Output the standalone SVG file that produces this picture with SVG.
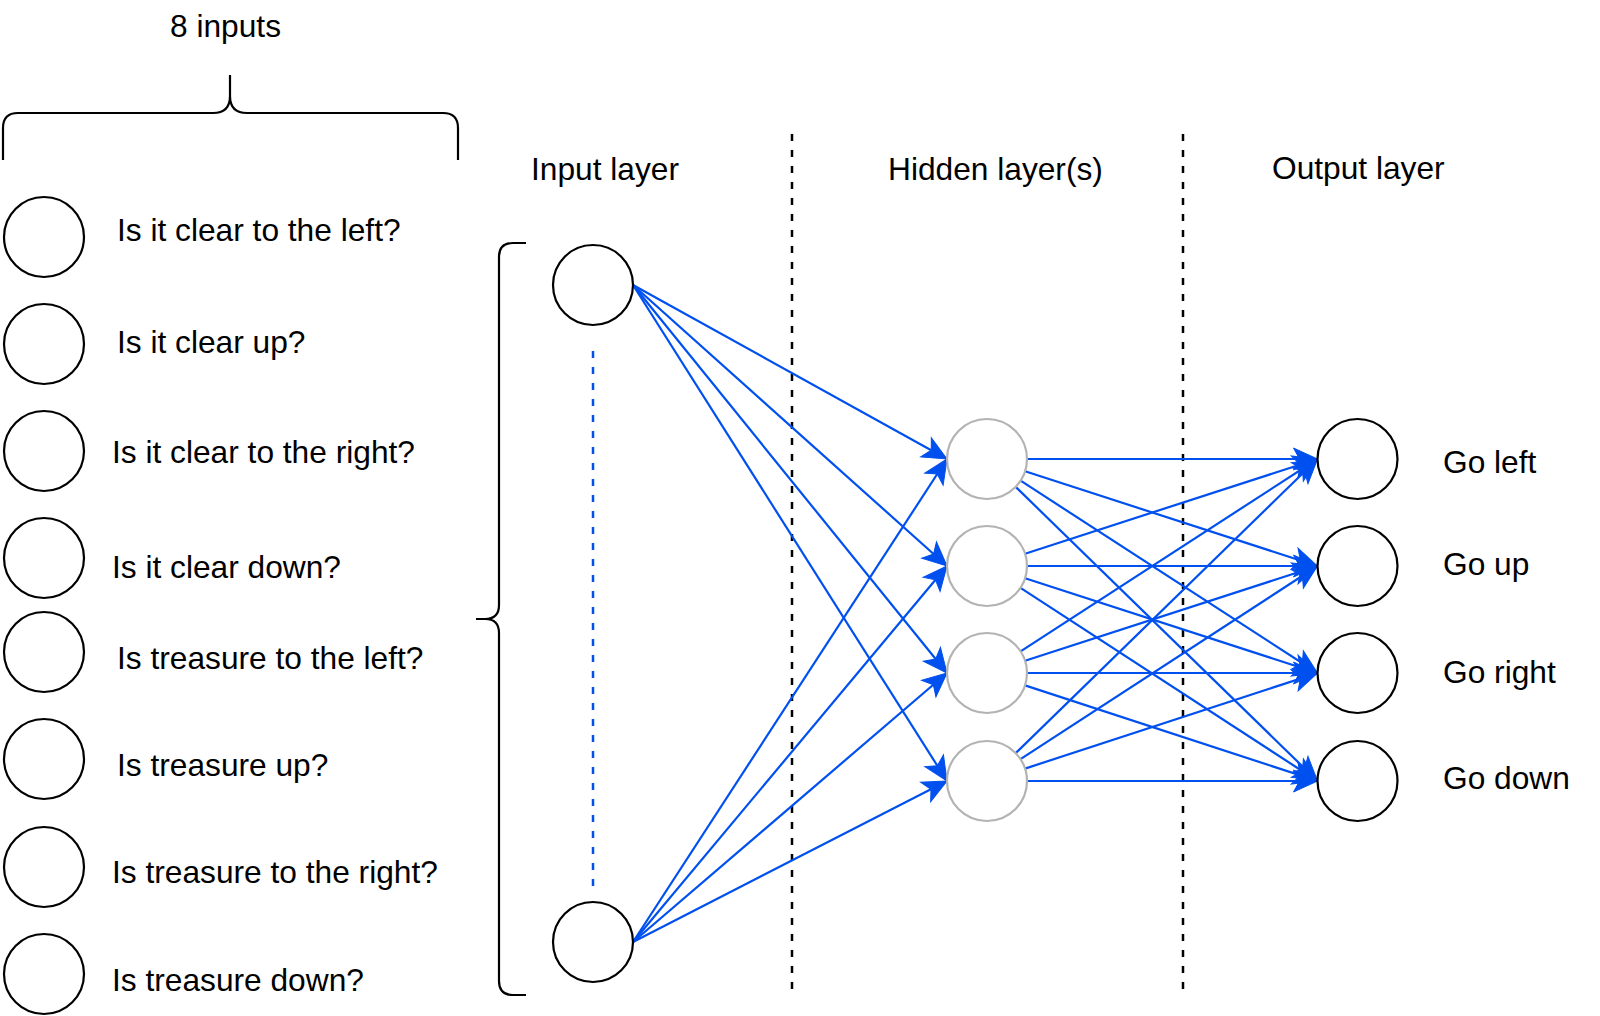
<svg xmlns="http://www.w3.org/2000/svg" width="1600" height="1016" viewBox="0 0 1600 1016">
<style>
  text { font-family: "Liberation Sans", Arial, Helvetica, sans-serif; font-size: 31.7px; fill: #000000; }
  .node { fill: #FFFFFF; stroke: #000000; stroke-width: 2.2; }
  .hid { fill: #FFFFFF; stroke: #B3B3B3; stroke-width: 2.2; }
  .edge { fill: none; stroke: #0050EF; stroke-width: 2.2; marker-end: url(#arrow); }
  .brace { fill: none; stroke: #000000; stroke-width: 2.2; }
  .sep { fill: none; stroke: #000000; stroke-width: 2.5; stroke-dasharray: 7 9; }
  .dots { fill: none; stroke: #0050EF; stroke-width: 2.5; stroke-dasharray: 7 9; }
</style>
<defs>
  <marker id="arrow" markerUnits="userSpaceOnUse" viewBox="-26 -13 28 26" markerWidth="28" markerHeight="26" refX="0" refY="0" orient="auto">
    <path d="M0,0 L-24,-11 L-18,0 L-24,11 Z" fill="#0050EF" stroke="#0050EF" stroke-width="1" stroke-linejoin="miter"/>
  </marker>
</defs>
<rect x="0" y="0" width="1600" height="1016" fill="#FFFFFF"/>

<g id="inputs-count">
  <text x="170" y="37">8 inputs</text>
  <path class="brace" d="M3,160 L3,128 Q3,113 18,113 L213,113 Q230,113 230,96 L230,75 M230,96 Q230,113 247,113 L443,113 Q458,113 458,128 L458,160"/>
</g>

<g id="feature-list">
  <g id="f1"><circle class="node" cx="44" cy="237" r="40"/><text x="117" y="241">Is it clear to the left?</text></g>
  <g id="f2"><circle class="node" cx="44" cy="344" r="40"/><text x="117" y="353">Is it clear up?</text></g>
  <g id="f3"><circle class="node" cx="44" cy="451" r="40"/><text x="112" y="463">Is it clear to the right?</text></g>
  <g id="f4"><circle class="node" cx="44" cy="558" r="40"/><text x="112" y="578">Is it clear down?</text></g>
  <g id="f5"><circle class="node" cx="44" cy="652" r="40"/><text x="117" y="669">Is treasure to the left?</text></g>
  <g id="f6"><circle class="node" cx="44" cy="759" r="40"/><text x="117" y="776">Is treasure up?</text></g>
  <g id="f7"><circle class="node" cx="44" cy="867" r="40"/><text x="112" y="883">Is treasure to the right?</text></g>
  <g id="f8"><circle class="node" cx="44" cy="974" r="40"/><text x="112" y="991">Is treasure down?</text></g>
</g>

<g id="layer-titles">
  <text x="531" y="180">Input layer</text>
  <text x="888" y="180">Hidden layer(s)</text>
  <text x="1272" y="179">Output layer</text>
</g>

<g id="separators">
  <line class="sep" x1="792" y1="134" x2="792" y2="995"/>
  <line class="sep" x1="1183" y1="134" x2="1183" y2="995"/>
</g>

<g id="input-brace">
  <path class="brace" d="M526,243 L513,243 Q499,243 499,257 L499,605 Q499,619 485,619 L476,619 M485,619 Q499,619 499,633 L499,981 Q499,995 513,995 L526,995"/>
</g>

<g id="connectors">
  <line class="dots" x1="593" y1="351" x2="593" y2="887"/>
  <line class="edge" x1="633" y1="285" x2="947" y2="459"/>
  <line class="edge" x1="633" y1="285" x2="947" y2="566"/>
  <line class="edge" x1="633" y1="285" x2="947" y2="673"/>
  <line class="edge" x1="633" y1="285" x2="947" y2="781"/>
  <line class="edge" x1="633" y1="942" x2="947" y2="459"/>
  <line class="edge" x1="633" y1="942" x2="947" y2="566"/>
  <line class="edge" x1="633" y1="942" x2="947" y2="673"/>
  <line class="edge" x1="633" y1="942" x2="947" y2="781"/>
  <line class="edge" x1="1027" y1="459" x2="1317.5" y2="459"/>
  <line class="edge" x1="1025.1" y1="471.3" x2="1317.5" y2="566"/>
  <line class="edge" x1="1020.6" y1="480.7" x2="1317.5" y2="673"/>
  <line class="edge" x1="1015.7" y1="486.9" x2="1317.5" y2="781"/>
  <line class="edge" x1="1025.1" y1="553.7" x2="1317.5" y2="459"/>
  <line class="edge" x1="1027" y1="566" x2="1317.5" y2="566"/>
  <line class="edge" x1="1025.1" y1="578.3" x2="1317.5" y2="673"/>
  <line class="edge" x1="1020.5" y1="587.8" x2="1317.5" y2="781"/>
  <line class="edge" x1="1020.6" y1="651.3" x2="1317.5" y2="459"/>
  <line class="edge" x1="1025.1" y1="660.7" x2="1317.5" y2="566"/>
  <line class="edge" x1="1027" y1="673" x2="1317.5" y2="673"/>
  <line class="edge" x1="1025.0" y1="685.4" x2="1317.5" y2="781"/>
  <line class="edge" x1="1015.7" y1="753.1" x2="1317.5" y2="459"/>
  <line class="edge" x1="1020.5" y1="759.2" x2="1317.5" y2="566"/>
  <line class="edge" x1="1025.0" y1="768.6" x2="1317.5" y2="673"/>
  <line class="edge" x1="1027" y1="781" x2="1317.5" y2="781"/>
</g>

<g id="input-top"><circle class="node" cx="593" cy="285" r="40"/></g>
<g id="input-bottom"><circle class="node" cx="593" cy="942" r="40"/></g>

<g id="hidden-1"><circle class="hid" cx="987" cy="459" r="40"/></g>
<g id="hidden-2"><circle class="hid" cx="987" cy="566" r="40"/></g>
<g id="hidden-3"><circle class="hid" cx="987" cy="673" r="40"/></g>
<g id="hidden-4"><circle class="hid" cx="987" cy="781" r="40"/></g>

<g id="out-left"><circle class="node" cx="1357.5" cy="459" r="40"/><text x="1443" y="473">Go left</text></g>
<g id="out-up"><circle class="node" cx="1357.5" cy="566" r="40"/><text x="1443" y="575">Go up</text></g>
<g id="out-right"><circle class="node" cx="1357.5" cy="673" r="40"/><text x="1443" y="683">Go right</text></g>
<g id="out-down"><circle class="node" cx="1357.5" cy="781" r="40"/><text x="1443" y="789">Go down</text></g>
</svg>
